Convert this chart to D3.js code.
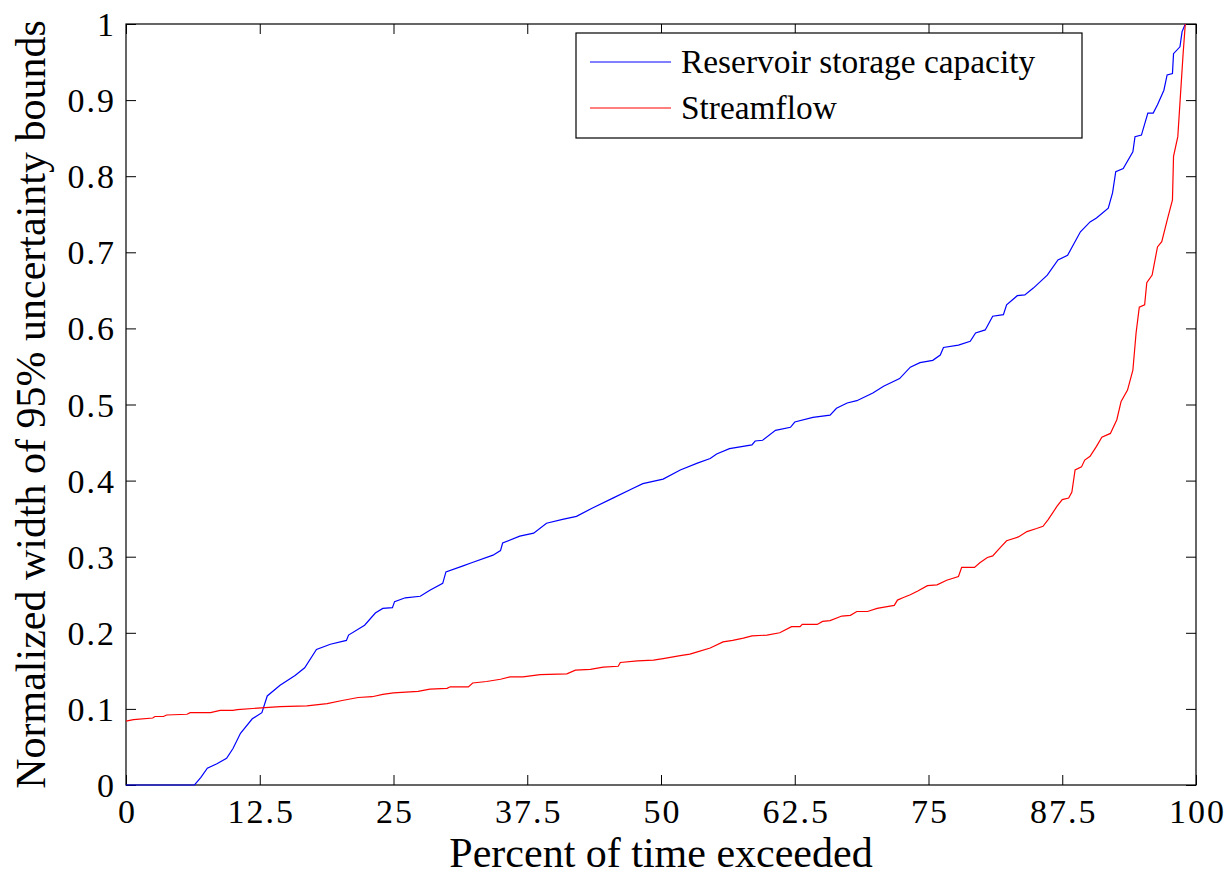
<!DOCTYPE html>
<html>
<head>
<meta charset="utf-8">
<script src="https://cdn.jsdelivr.net/npm/d3@7"></script>
<style>
  body { margin: 0; background: #fff; }
  text { font-family: "Liberation Serif", "Times New Roman", serif; fill: #000; }
</style>
</head>
<body>
<div id="chart"></div>
<script>
// DATA
const xTicks = [0, 12.5, 25, 37.5, 50, 62.5, 75, 87.5, 100];
const yTicks = [0, 0.1, 0.2, 0.3, 0.4, 0.5, 0.6, 0.7, 0.8, 0.9, 1];

const reservoirX = [0, 6.4, 7.0, 7.6, 8.5, 9.4, 10.0, 10.7, 11.8, 12.7, 13.2, 14.4, 15.8, 16.7, 17.8, 19.1, 20.6, 20.8, 22.3, 23.3, 24.0, 24.9, 25.1, 26.1, 27.5, 28.4, 29.6, 29.9, 31.5, 32.3, 34.3, 35.0, 35.2, 36.8, 38.1, 39.3, 40.8, 42.1, 43.6, 45.5, 47.4, 48.3, 50.2, 51.8, 53.4, 54.6, 55.2, 56.4, 58.5, 58.8, 59.5, 60.7, 62.1, 62.5, 64.2, 65.8, 66.4, 67.4, 68.3, 69.8, 70.8, 72.3, 73.3, 74.2, 75.4, 76.1, 76.4, 77.8, 78.9, 79.4, 80.3, 81.0, 82.0, 82.3, 83.3, 84.0, 84.8, 86.1, 87.1, 88.0, 89.2, 90.1, 90.7, 91.8, 92.2, 92.5, 93.2, 94.1, 94.3, 94.9, 95.5, 96.0, 96.4, 97.0, 97.3, 97.8, 97.9, 98.5, 98.7, 99.0];
const reservoirY = [0, 0, 0.01, 0.022, 0.028, 0.035, 0.048, 0.068, 0.087, 0.095, 0.117, 0.131, 0.144, 0.154, 0.178, 0.185, 0.190, 0.197, 0.210, 0.226, 0.232, 0.233, 0.241, 0.246, 0.248, 0.256, 0.265, 0.280, 0.288, 0.292, 0.302, 0.308, 0.318, 0.327, 0.331, 0.344, 0.349, 0.353, 0.364, 0.377, 0.390, 0.396, 0.402, 0.414, 0.423, 0.429, 0.435, 0.442, 0.447, 0.452, 0.453, 0.466, 0.470, 0.477, 0.483, 0.486, 0.495, 0.502, 0.505, 0.515, 0.524, 0.534, 0.549, 0.555, 0.558, 0.565, 0.575, 0.578, 0.583, 0.594, 0.598, 0.616, 0.618, 0.631, 0.643, 0.644, 0.653, 0.670, 0.690, 0.696, 0.727, 0.740, 0.745, 0.758, 0.778, 0.806, 0.810, 0.832, 0.852, 0.854, 0.883, 0.883, 0.894, 0.913, 0.933, 0.935, 0.961, 0.970, 0.990, 1.0];

const streamflowX = [0, 0.7, 2.5, 2.7, 3.5, 3.8, 5.7, 6.0, 7.9, 8.8, 10.0, 10.4, 12.3, 14.4, 16.9, 18.8, 20.2, 21.7, 23.0, 24.0, 25.0, 27.3, 28.4, 30.0, 30.3, 32.0, 32.4, 33.7, 35.0, 35.9, 37.1, 38.7, 41.2, 42.0, 43.4, 44.6, 46.0, 46.2, 47.8, 49.3, 50.2, 51.8, 52.7, 53.4, 54.6, 55.8, 56.7, 57.7, 58.5, 59.9, 61.1, 62.2, 63.0, 63.2, 64.6, 65.1, 65.8, 66.9, 67.7, 68.3, 69.3, 70.2, 71.4, 71.8, 72.1, 72.6, 73.3, 74.0, 74.9, 75.8, 76.7, 77.8, 78.1, 79.3, 79.8, 80.5, 81.0, 81.7, 82.3, 83.4, 84.2, 85.1, 85.7, 86.2, 87.0, 87.5, 88.1, 88.4, 88.7, 89.3, 89.6, 90.1, 90.7, 91.2, 92.0, 92.6, 93.0, 93.6, 94.1, 94.4, 94.7, 95.2, 95.4, 95.9, 96.4, 96.8, 97.3, 97.8, 97.9, 98.3, 98.5, 98.8, 99.0];
const streamflowY = [0.084, 0.086, 0.088, 0.090, 0.090, 0.092, 0.093, 0.095, 0.095, 0.098, 0.098, 0.099, 0.101, 0.103, 0.104, 0.107, 0.111, 0.115, 0.116, 0.119, 0.121, 0.123, 0.126, 0.127, 0.129, 0.129, 0.134, 0.136, 0.139, 0.142, 0.142, 0.145, 0.146, 0.151, 0.152, 0.155, 0.156, 0.161, 0.163, 0.164, 0.166, 0.170, 0.172, 0.175, 0.180, 0.188, 0.190, 0.193, 0.196, 0.197, 0.200, 0.208, 0.208, 0.211, 0.211, 0.215, 0.216, 0.222, 0.223, 0.228, 0.228, 0.232, 0.235, 0.236, 0.243, 0.246, 0.250, 0.255, 0.262, 0.263, 0.269, 0.274, 0.286, 0.286, 0.292, 0.299, 0.301, 0.312, 0.321, 0.326, 0.333, 0.337, 0.340, 0.349, 0.366, 0.375, 0.377, 0.385, 0.414, 0.418, 0.427, 0.432, 0.445, 0.457, 0.462, 0.480, 0.504, 0.519, 0.545, 0.594, 0.628, 0.631, 0.660, 0.670, 0.707, 0.714, 0.742, 0.769, 0.826, 0.852, 0.896, 0.962, 1.0];

const seriesNames = ["Reservoir storage capacity", "Streamflow"];
const seriesColors = ["#0000ff", "#ff0000"];

// LAYOUT
const SVG_W = 1231, SVG_H = 877;
const MARGIN = { LEFT: 126, TOP: 24, RIGHT: 35, BOTTOM: 92 };
const WIDTH = SVG_W - MARGIN.LEFT - MARGIN.RIGHT;
const HEIGHT = SVG_H - MARGIN.TOP - MARGIN.BOTTOM;
const TICK = 10;

const svg = d3.select("#chart")
  .append("svg")
  .attr("width", SVG_W)
  .attr("height", SVG_H);

const g = svg.append("g")
  .attr("transform", `translate(${MARGIN.LEFT}, ${MARGIN.TOP})`);

const x = d3.scaleLinear().domain([0, 100]).range([0, WIDTH]);
const y = d3.scaleLinear().domain([0, 1]).range([HEIGHT, 0]);

// AXIS (ticks point inwards, box on all sides)
g.append("g")
  .attr("transform", `translate(0, ${HEIGHT})`)
  .call(d3.axisBottom(x).tickValues(xTicks).tickSize(-TICK).tickPadding(14).tickFormat(d3.format("")))
  .call((a) => {
    a.select(".domain").remove();
    a.selectAll("text")
      .attr("font-size", "34px")
      .attr("font-family", "Liberation Serif")
      .attr("letter-spacing", "2px")
      .attr("dx", "1px");
  });

g.append("g")
  .call(d3.axisTop(x).tickValues(xTicks).tickSize(-TICK).tickFormat(""))
  .call((a) => a.select(".domain").remove());

g.append("g")
  .call(d3.axisLeft(y).tickValues(yTicks).tickSize(-TICK).tickPadding(10).tickFormat(d3.format("")))
  .call((a) => {
    a.select(".domain").remove();
    a.selectAll("text")
      .attr("font-size", "34px")
      .attr("font-family", "Liberation Serif")
      .attr("letter-spacing", "2px")
      .attr("dy", "0.34em");
  });

g.append("g")
  .attr("transform", `translate(${WIDTH}, 0)`)
  .call(d3.axisRight(y).tickValues(yTicks).tickSize(-TICK).tickFormat(""))
  .call((a) => a.select(".domain").remove());

g.selectAll(".tick line").attr("stroke", "#000");

g.append("rect")
  .attr("x", 0)
  .attr("y", 0)
  .attr("width", WIDTH)
  .attr("height", HEIGHT)
  .attr("fill", "none")
  .attr("stroke", "#000")
  .attr("stroke-width", 1.2);

// LINES
const line = d3.line()
  .x((d) => x(d[0]))
  .y((d) => y(d[1]));

const reservoir = reservoirX.map((v, i) => [v, reservoirY[i]]);
const streamflow = streamflowX.map((v, i) => [v, streamflowY[i]]);

[reservoir, streamflow].forEach((data, i) => {
  g.append("path")
    .datum(data)
    .attr("fill", "none")
    .attr("stroke", seriesColors[i])
    .attr("stroke-width", 1.2)
    .attr("d", line);
});

// LABELS
g.append("text")
  .attr("x", WIDTH / 2)
  .attr("y", HEIGHT + 82)
  .attr("text-anchor", "middle")
  .attr("font-size", "42px")
  .text("Percent of time exceeded");

g.append("text")
  .attr("transform", "rotate(-90)")
  .attr("x", -HEIGHT / 2)
  .attr("y", -81)
  .attr("text-anchor", "middle")
  .attr("font-size", "42px")
  .text("Normalized width of 95% uncertainty bounds");

// LEGEND
const legend = svg.append("g").attr("transform", "translate(576, 33)");

legend.append("rect")
  .attr("width", 506)
  .attr("height", 105)
  .attr("fill", "#fff")
  .attr("stroke", "#000")
  .attr("stroke-width", 1.2);

seriesNames.forEach((name, i) => {
  const row = legend.append("g").attr("transform", `translate(0, ${29 + i * 46})`);
  row.append("line")
    .attr("x1", 14)
    .attr("x2", 95)
    .attr("stroke", seriesColors[i])
    .attr("stroke-width", 1.2);
  row.append("text")
    .attr("x", 105)
    .attr("y", 11)
    .attr("font-size", "33.4px")
    .text(name);
});
</script>
</body>
</html>
